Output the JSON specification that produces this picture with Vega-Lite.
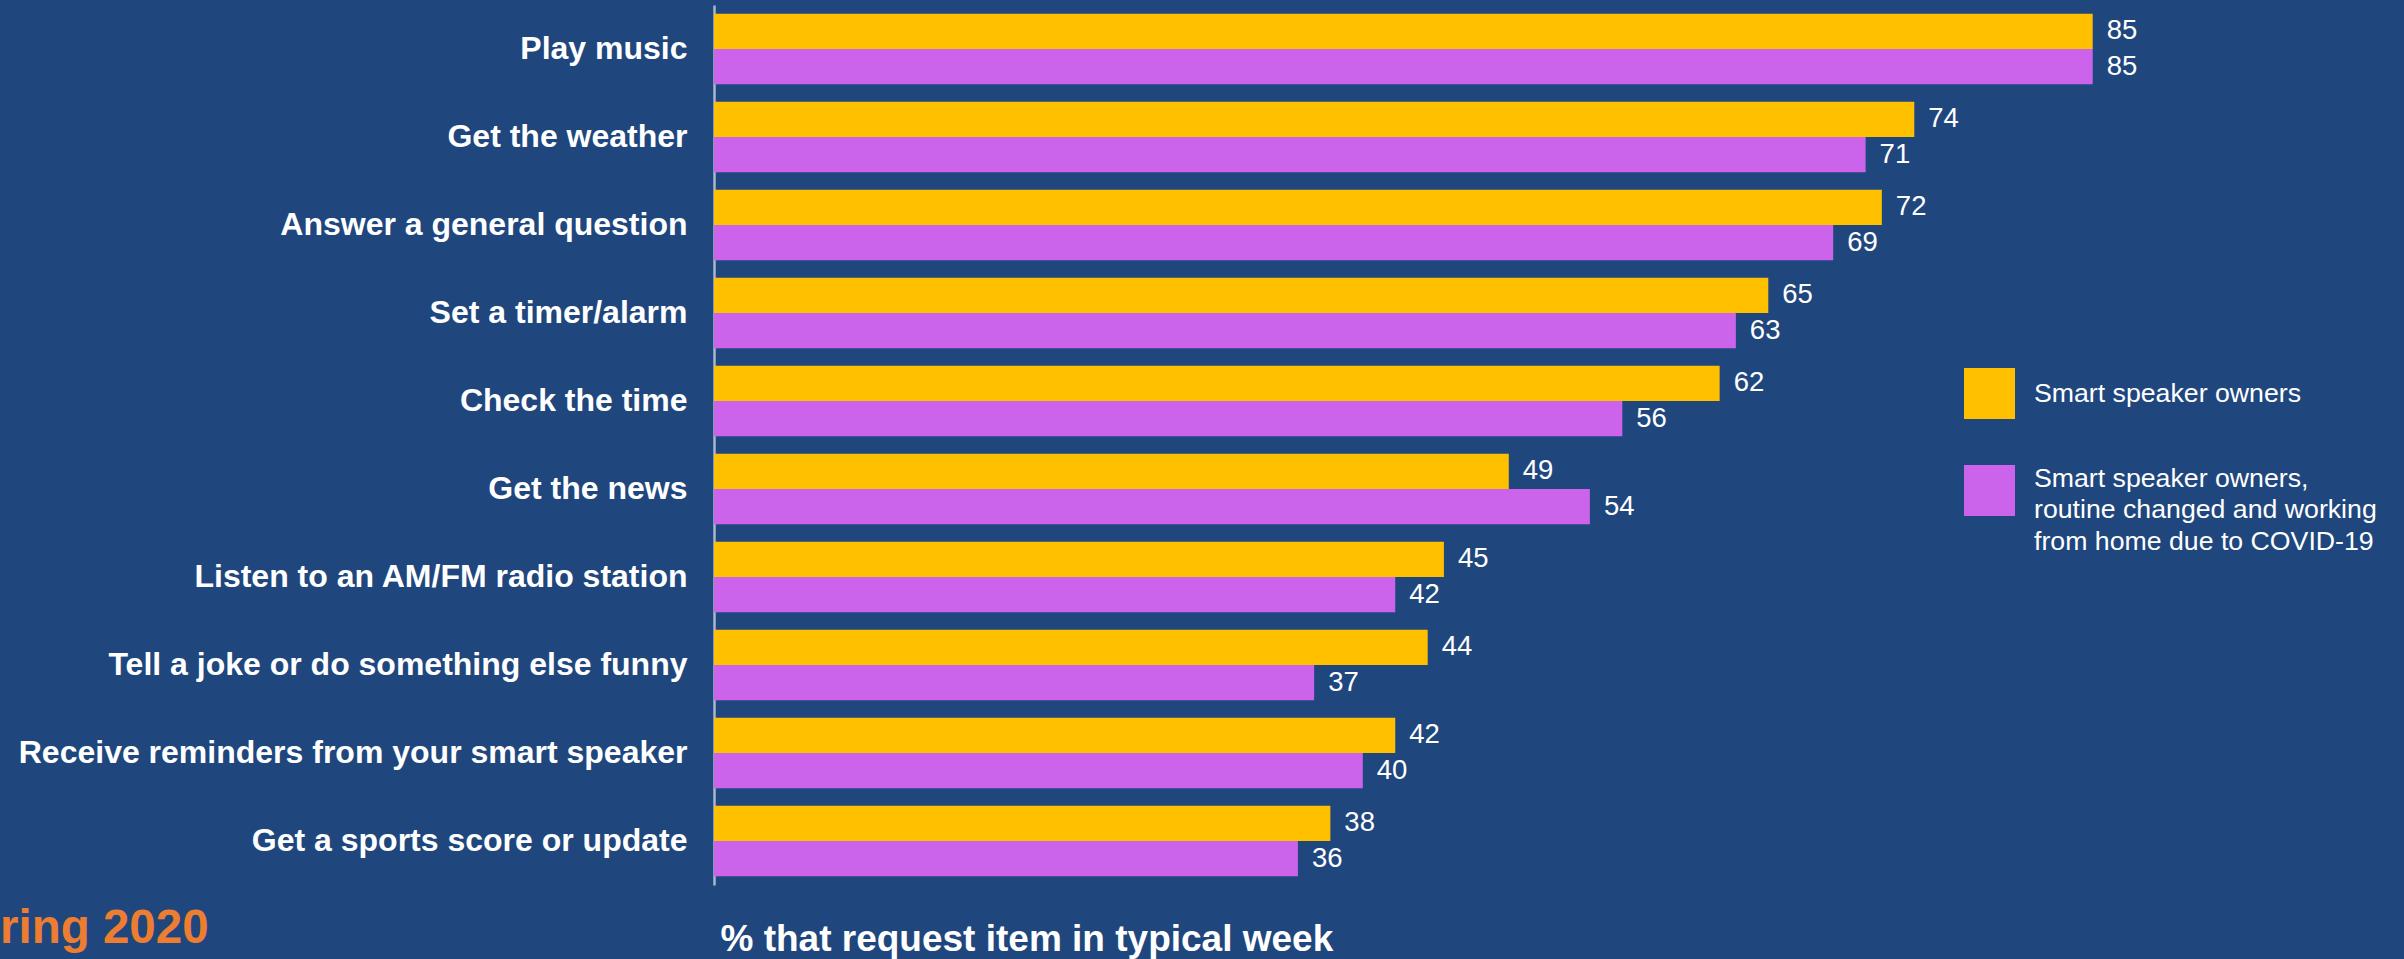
{
  "$schema": "https://vega.github.io/schema/vega-lite/v6.json",
  "width": 1622,
  "height": 880,
  "autosize": {"type": "none"},
  "padding": {"left": 714, "top": 5, "right": 68, "bottom": 74},
  "background": "#1F477E",
  "config": {"view": {"stroke": null}, "font": "Liberation Sans"},
  "title": {
    "text": "ring 2020",
    "orient": "bottom",
    "anchor": "start",
    "frame": "group",
    "dx": -714,
    "dy": -56,
    "fontSize": 47.5,
    "font": "Liberation Sans",
    "fontWeight": "bold",
    "color": "#ED7D31"
  },
  "data": {
    "values": [
      {"task": "Play music", "group": "Smart speaker owners", "value": 85},
      {"task": "Play music", "group": "Smart speaker owners, routine changed and working from home due to COVID-19", "value": 85},
      {"task": "Get the weather", "group": "Smart speaker owners", "value": 74},
      {"task": "Get the weather", "group": "Smart speaker owners, routine changed and working from home due to COVID-19", "value": 71},
      {"task": "Answer a general question", "group": "Smart speaker owners", "value": 72},
      {"task": "Answer a general question", "group": "Smart speaker owners, routine changed and working from home due to COVID-19", "value": 69},
      {"task": "Set a timer/alarm", "group": "Smart speaker owners", "value": 65},
      {"task": "Set a timer/alarm", "group": "Smart speaker owners, routine changed and working from home due to COVID-19", "value": 63},
      {"task": "Check the time", "group": "Smart speaker owners", "value": 62},
      {"task": "Check the time", "group": "Smart speaker owners, routine changed and working from home due to COVID-19", "value": 56},
      {"task": "Get the news", "group": "Smart speaker owners", "value": 49},
      {"task": "Get the news", "group": "Smart speaker owners, routine changed and working from home due to COVID-19", "value": 54},
      {"task": "Listen to an AM/FM radio station", "group": "Smart speaker owners", "value": 45},
      {"task": "Listen to an AM/FM radio station", "group": "Smart speaker owners, routine changed and working from home due to COVID-19", "value": 42},
      {"task": "Tell a joke or do something else funny", "group": "Smart speaker owners", "value": 44},
      {"task": "Tell a joke or do something else funny", "group": "Smart speaker owners, routine changed and working from home due to COVID-19", "value": 37},
      {"task": "Receive reminders from your smart speaker", "group": "Smart speaker owners", "value": 42},
      {"task": "Receive reminders from your smart speaker", "group": "Smart speaker owners, routine changed and working from home due to COVID-19", "value": 40},
      {"task": "Get a sports score or update", "group": "Smart speaker owners", "value": 38},
      {"task": "Get a sports score or update", "group": "Smart speaker owners, routine changed and working from home due to COVID-19", "value": 36}
    ]
  },
  "encoding": {
    "y": {
      "field": "task",
      "type": "nominal",
      "sort": null,
      "scale": {"paddingInner": 0.2, "paddingOuter": 0.1},
      "axis": {
        "title": null,
        "ticks": false,
        "grid": false,
        "domainColor": "#A9B6CC",
        "domainWidth": 2.5,
        "labelFontSize": 32,
        "labelFontWeight": "bold",
        "labelColor": "#FFFFFF",
        "labelPadding": 27,
        "labelLimit": 1000
      }
    },
    "yOffset": {
      "field": "group",
      "type": "nominal",
      "sort": ["Smart speaker owners", "Smart speaker owners, routine changed and working from home due to COVID-19"],
      "scale": {"paddingInner": 0, "paddingOuter": 0}
    },
    "x": {
      "field": "value",
      "type": "quantitative",
      "scale": {"domain": [0, 100]},
      "axis": {
        "labels": false,
        "ticks": false,
        "domain": false,
        "grid": false,
        "title": "% that request item in typical week",
        "titleFontSize": 37,
        "titleFontWeight": "bold",
        "titleColor": "#FFFFFF",
        "titleAnchor": "start",
        "titleAlign": "left",
        "titleX": 6,
        "titlePadding": 36
      }
    }
  },
  "layer": [
    {
      "mark": {"type": "bar"},
      "encoding": {
        "color": {
          "field": "group",
          "type": "nominal",
          "scale": {
            "domain": ["Smart speaker owners", "Smart speaker owners, routine changed and working from home due to COVID-19"],
            "range": ["#FFC000", "#CB63EB"]
          },
          "legend": {
            "title": null,
            "orient": "none",
            "legendX": 1250,
            "legendY": 363,
            "padding": 0,
            "symbolType": "square",
            "symbolSize": 2601,
            "symbolStrokeWidth": 0,
            "symbolOpacity": 1,
            "labelFontSize": 26.7,
            "labelColor": "#FFFFFF",
            "labelOffset": 19,
            "labelLimit": 800,
            "rowPadding": 46,
            "labelExpr": "datum.label == 'Smart speaker owners' ? datum.label : ['Smart speaker owners,', 'routine changed and working', 'from home due to COVID-19']",
            "encode": {"labels": {"update": {"lineHeight": {"value": 31.5}, "dy": {"signal": "datum.value == 'Smart speaker owners' ? 0 : -12"}}}}
          }
        }
      }
    },
    {
      "mark": {"type": "text", "align": "left", "baseline": "middle", "dx": 14, "fontSize": 27.5, "color": "#FFFFFF"},
      "encoding": {"text": {"field": "value", "type": "quantitative"}}
    }
  ]
}
